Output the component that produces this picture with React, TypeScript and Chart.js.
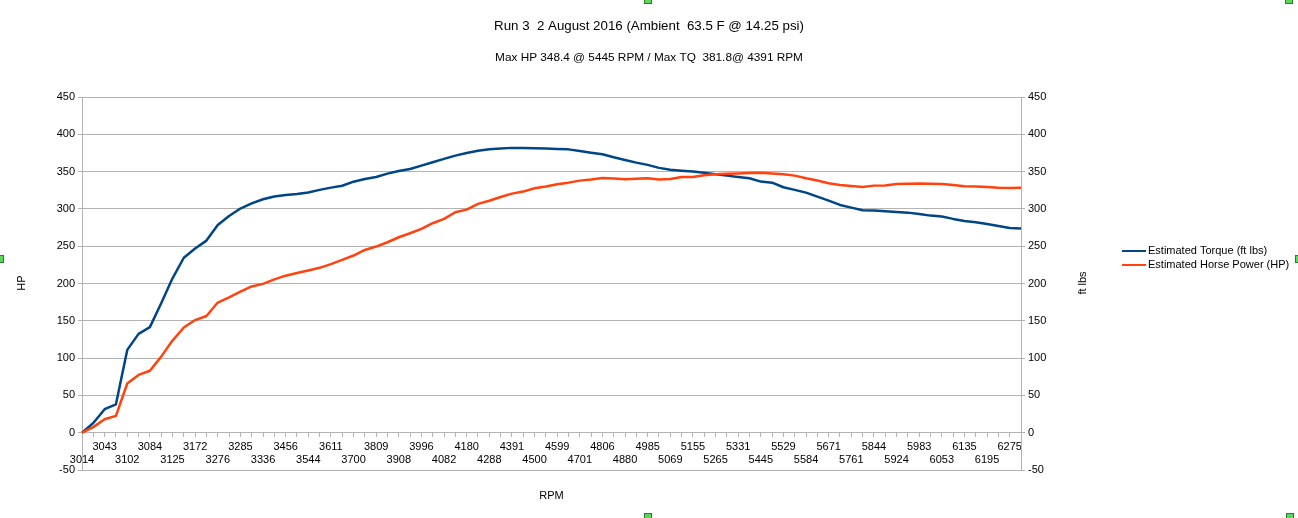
import { useEffect, useRef } from "react";
import { Chart, registerables } from "chart.js";

Chart.register(...registerables);

// RPM readings printed under the axis (every second sample is labelled)
const rpmTicks = [
  "3014", "3043", "3102", "3084", "3125", "3172", "3276", "3285", "3336", "3456",
  "3544", "3611", "3700", "3809", "3908", "3996", "4082", "4180", "4288", "4391",
  "4500", "4599", "4701", "4806", "4880", "4985", "5069", "5155", "5265", "5331",
  "5445", "5529", "5584", "5671", "5761", "5844", "5924", "5983", "6053", "6135",
  "6195", "6275",
];

// Estimated torque, ft lbs, one value per sample
const torque = [
  0, 13, 31.5, 38, 111, 132.5, 141.5, 173.5, 207, 234.5,
  247, 257.5, 278.5, 290.5, 300.5, 307.5, 313, 316.5, 318.5, 320,
  322, 325.5, 328.5, 331, 336.5, 340, 342.8, 347.3, 350.9, 353.5,
  358, 362.5, 367, 371.4, 375, 378, 380, 380.8, 381.8, 381.6,
  381.4, 381, 380.3, 379.8, 377.7, 375.4, 373.2, 369.2, 365.6, 362,
  359, 355, 352.6, 351.3, 350, 348.6, 346.4, 344.6, 342.8, 341.1,
  336.6, 335.2, 329, 325.5, 321.8, 316.5, 311.1, 305.3, 301.7, 298.2,
  297.7, 296.9, 296, 295, 293.3, 291, 289.7, 286.6, 283.9, 282.2,
  279.9, 277.2, 274.5, 273.6,
];

// Estimated horse power, one value per sample
const horsePower = [
  0, 7.5, 18, 22.5, 66, 77.5, 83, 102, 123.5, 141,
  151, 156.5, 174.5, 181.5, 189, 196, 199.5, 205.5, 210.5, 214,
  217.5, 221, 226, 231.7, 237.5, 245, 249.5, 255.3, 262, 267.4,
  273.2, 280.8, 286.6, 295.5, 299, 306.7, 311, 316, 320.5, 323.2,
  327.7, 329.9, 333, 335.2, 337.9, 339.3, 341.5, 340.6, 339.7, 340.3,
  341, 339.5, 340.2, 342.8, 342.8, 345.2, 346.6, 347, 347.5, 348,
  348.4, 347.6, 346.6, 344.6, 341.1, 338, 334.4, 332.1, 330.8, 329.3,
  331.2, 331.5, 333.5, 333.8, 334, 333.8, 333.3, 332.1, 330.4, 329.9,
  329.4, 328.5, 328.1, 328.5,
];

const yMin = -50;
const yMax = 450;
const yStep = 50;

const titleText = "Run 3  2 August 2016 (Ambient  63.5 F @ 14.25 psi)";
const subtitleText = "Max HP 348.4 @ 5445 RPM / Max TQ  381.8@ 4391 RPM";
const xTitle = "RPM";
const yLeftTitle = "HP";
const yRightTitle = "ft lbs";
const seriesNames = ["Estimated Torque (ft lbs)", "Estimated Horse Power (HP)"];

const FONT = '"Liberation Sans", Arial, sans-serif';
const TORQUE_COLOR = "#004586";
const HP_COLOR = "#ff420e";
const GRID_COLOR = "#b3b3b3";

const categories = torque.map((_, i) =>
  i % 2 === 0 && i / 2 < rpmTicks.length ? rpmTicks[i / 2] : ""
);

const decorations = {
  id: "decorations",
  afterDraw(chart: any) {
    const ctx = chart.ctx as CanvasRenderingContext2D;
    const area = chart.chartArea;
    ctx.save();
    ctx.fillStyle = "#000";
    ctx.textAlign = "center";
    ctx.textBaseline = "middle";

    ctx.font = `13.3px ${FONT}`;
    ctx.fillText(titleText, chart.width / 2, 26);
    ctx.font = `11.8px ${FONT}`;
    ctx.fillText(subtitleText, chart.width / 2, 58);

    ctx.font = `11px ${FONT}`;
    ctx.fillText(xTitle, (area.left + area.right) / 2, 496);

    ctx.save();
    ctx.translate(22, 283);
    ctx.rotate(-Math.PI / 2);
    ctx.fillText(yLeftTitle, 0, 0);
    ctx.restore();

    ctx.save();
    ctx.translate(1083, 283);
    ctx.rotate(-Math.PI / 2);
    ctx.fillText(yRightTitle, 0, 0);
    ctx.restore();

    // legend
    const colors = [TORQUE_COLOR, HP_COLOR];
    const rows = [251, 265];
    ctx.textAlign = "left";
    seriesNames.forEach((name, k) => {
      ctx.strokeStyle = colors[k];
      ctx.lineWidth = 2;
      ctx.beginPath();
      ctx.moveTo(1122, rows[k]);
      ctx.lineTo(1146, rows[k]);
      ctx.stroke();
      ctx.fillStyle = "#000";
      ctx.fillText(name, 1148, rows[k]);
    });

    // selection handles around the chart object
    const handles = [
      [648, 0], [1289, 0], [0, 259], [1299, 259], [648, 517], [1290, 517],
    ];
    handles.forEach(([hx, hy]) => {
      ctx.fillStyle = "#5ad85a";
      ctx.strokeStyle = "#2e7d2e";
      ctx.lineWidth = 1;
      ctx.fillRect(hx - 4, hy - 4, 8, 8);
      ctx.strokeRect(hx - 3.5, hy - 3.5, 7, 7);
    });
    ctx.restore();
  },
};

export default function App() {
  const canvasRef = useRef<HTMLCanvasElement | null>(null);

  useEffect(() => {
    document.body.style.margin = "0";
    const canvas = canvasRef.current;
    if (!canvas) return;

    const tickFont = { family: FONT, size: 11, lineHeight: 1.25 };

    const chart = new Chart(canvas, {
      type: "line",
      data: {
        labels: categories,
        datasets: [
          {
            label: seriesNames[0],
            data: torque,
            borderColor: TORQUE_COLOR,
            backgroundColor: TORQUE_COLOR,
            borderWidth: 2.5,
            pointRadius: 0,
            tension: 0,
            yAxisID: "y1",
            order: 1,
            borderJoinStyle: "round",
          },
          {
            label: seriesNames[1],
            data: horsePower,
            borderColor: HP_COLOR,
            backgroundColor: HP_COLOR,
            borderWidth: 2.5,
            pointRadius: 0,
            tension: 0,
            yAxisID: "y",
            order: 0,
            borderJoinStyle: "round",
          },
        ],
      },
      options: {
        animation: false,
        responsive: false,
        layout: { padding: { top: 97, right: 237, bottom: 48, left: 0 } },
        plugins: {
          legend: { display: false },
          title: { display: false },
          tooltip: { enabled: false },
        },
        scales: {
          x: {
            type: "category",
            position: { y: 0 },
            offset: false,
            grid: {
              display: true,
              drawOnChartArea: false,
              drawTicks: true,
              tickLength: 4,
              color: GRID_COLOR,
            },
            border: { display: false },
            ticks: {
              autoSkip: false,
              maxRotation: 0,
              minRotation: 0,
              padding: 3,
              color: "#000",
              font: tickFont,
              callback: (_v: any, i: number) => {
                const l = categories[i];
                if (!l) return "";
                return i % 4 === 0 ? ["", l] : [l];
              },
            },
            afterFit: (s: any) => {
              s.height = 0;
            },
          },
          y: {
            position: "left",
            min: yMin,
            max: yMax,
            grid: { color: GRID_COLOR, tickLength: 4, drawTicks: true },
            border: { color: GRID_COLOR },
            ticks: { stepSize: yStep, padding: 3, color: "#000", font: tickFont },
            afterFit: (s: any) => {
              s.width = 82;
            },
          },
          y1: {
            position: "right",
            min: yMin,
            max: yMax,
            grid: { drawOnChartArea: false, color: GRID_COLOR, tickLength: 4, drawTicks: true },
            border: { color: GRID_COLOR },
            ticks: { stepSize: yStep, padding: 3, color: "#000", font: tickFont },
            afterFit: (s: any) => {
              s.width = 40;
            },
          },
        },
      } as any,
      plugins: [decorations],
    });

    return () => chart.destroy();
  }, []);

  return (
    <canvas
      ref={canvasRef}
      width={1298}
      height={518}
      style={{ display: "block", width: 1298, height: 518 }}
    />
  );
}
